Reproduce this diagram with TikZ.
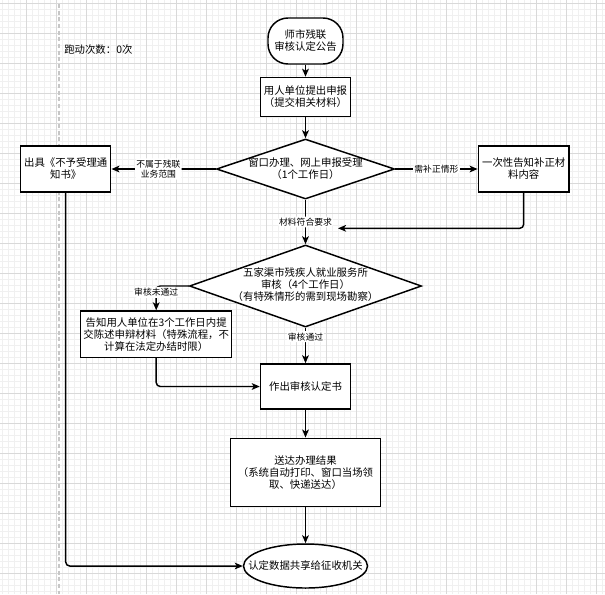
\documentclass[tikz,border=0pt]{standalone}
\usepackage{fontspec}
\setmainfont{Noto Sans CJK SC}
\usetikzlibrary{shapes.geometric,arrows.meta}
\begin{document}
\begin{tikzpicture}[x=0.75pt, y=-0.75pt,
  >={Stealth[length=6pt,width=5pt,inset=1.5pt]},
  font=\fontsize{7.8pt}{9pt}\selectfont,
  box/.style={draw, line width=1.1pt, fill=white, inner sep=0pt, align=center},
  decision/.style={draw, diamond, line width=1.1pt, fill=white, inner sep=0pt},
  endpoint/.style={draw, ellipse, line width=1.1pt, fill=white, inner sep=0pt},
  txt/.style={align=center, inner sep=0pt},
  flow/.style={->, line width=1.1pt, rounded corners=3pt},
  tag/.style={fill=white, inner sep=1pt, align=center, font=\fontsize{6.6pt}{8pt}\selectfont},
  minor/.style={black!6, line width=0.5pt},
  major/.style={black!15, line width=0.6pt}]
  \useasboundingbox (0,0) rectangle (605,594);
  % 背景网格
  \foreach \i in {0,...,100} \draw[minor] (2.7+6*\i,0) -- (2.7+6*\i,594);
  \foreach \i in {0,...,98} \draw[minor] (0,3.3+6*\i) -- (605,3.3+6*\i);
  \foreach \i in {0,...,19} \draw[major] (26.7+30*\i,0) -- (26.7+30*\i,594);
  \foreach \i in {0,...,19} \draw[major] (0,3.3+30*\i) -- (605,3.3+30*\i);
  % 分页虚线
  \draw[black!22, line width=1.5pt, dash pattern=on 3pt off 2pt] (58.7,4) -- (58.7,594);
  \node[anchor=west, inner sep=0pt] (runs) at (64,50) {跑动次数：0次};
  % 主流程
  \node[box, rounded corners=15pt, minimum width=56.25pt, minimum height=34.5pt] (start) at (305.5,41) {师市残联\\审核认定公告};
  \node[box, minimum width=67.5pt, minimum height=29.25pt] (apply) at (305.5,97) {用人单位提出申报\\（提交相关材料）};
  \node[decision, minimum width=133.5pt, minimum height=45pt] (check) at (305.5,169) {};
  \node[txt] at (check) {窗口办理、网上申报受理\\（1个工作日）};
  \node[box, minimum width=67.5pt, minimum height=34.3pt] (refuse) at (65.7,169) {出具《不予受理通\\知书》};
  \node[box, minimum width=68pt, minimum height=34.3pt] (supply) at (523.7,169) {一次性告知补正材\\料内容};
  \coordinate (back) at (338,228.3);
  \node[decision, minimum width=174pt, minimum height=61.5pt] (review) at (305.5,286) {};
  \node[txt] at (305.5,285) {五家渠市残疾人就业服务所\\审核（4个工作日）\\（有特殊情形的需到现场勘察）};
  \node[box, minimum width=113.25pt, minimum height=34.7pt] (notice) at (156.2,334.2) {告知用人单位在3个工作日内提\\交陈述申辩材料（特殊流程，不\\计算在法定办结时限）};
  \node[box, minimum width=67.5pt, minimum height=33.75pt] (result) at (305.5,386.5) {作出审核认定书};
  \node[box, minimum width=112.7pt, minimum height=51.3pt] (deliver) at (305.5,472.5) {送达办理结果\\（系统自动打印、窗口当场领\\取、快递送达）};
  \node[endpoint, minimum width=93pt, minimum height=33pt] (share) at (305.5,566) {};
  \node[txt] at (share) {认定数据共享给征收机关};
  % 连线
  \draw[flow] (start) -- (apply);
  \draw[flow] (apply) -- (check);
  \draw[flow] (check) -- node[tag, pos=0.55]{不属于残联\\业务范围} (refuse);
  \draw[flow] (check) -- node[tag]{需补正情形} (supply);
  \draw[flow] (check) -- node[tag]{材料符合要求} (review);
  \draw[flow] (supply) |- (back);
  \draw[flow] (review) -| node[tag, pos=0.63]{审核未通过} (notice);
  \draw[flow] (review) -- node[tag, pos=0.25]{审核通过} (result);
  \draw[flow] (notice) |- (result);
  \draw[flow] (result) -- (deliver);
  \draw[flow] (deliver) -- (share);
  \draw[flow] (refuse) |- (share);
\end{tikzpicture}
\end{document}
